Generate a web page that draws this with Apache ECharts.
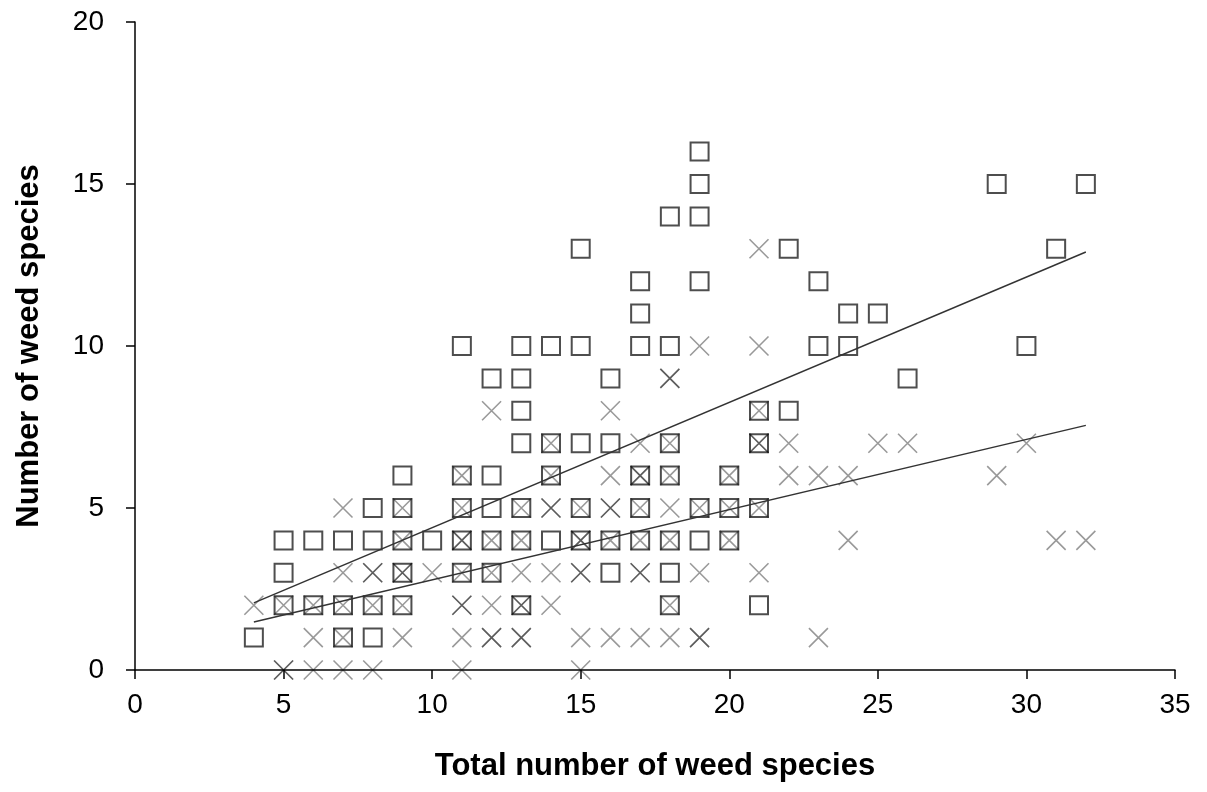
<!DOCTYPE html>
<html>
<head>
<meta charset="utf-8">
<script src="https://cdn.jsdelivr.net/npm/echarts@6/dist/echarts.min.js"></script>
<style>html,body{margin:0;padding:0;background:#fff}#c{width:1207px;height:792px}</style>
</head>
<body>
<div id="c"></div>
<script>
// Square markers: [total species, species]
const squarePoints = [
  [4,1],
  [5,4],[5,3],[5,2],
  [6,4],[6,2],
  [7,4],[7,2],[7,1],
  [8,5],[8,4],[8,2],[8,1],
  [9,6],[9,5],[9,4],[9,3],[9,2],
  [10,4],
  [11,10],[11,6],[11,5],[11,4],[11,3],
  [12,9],[12,6],[12,5],[12,4],[12,3],
  [13,10],[13,9],[13,8],[13,7],[13,5],[13,4],[13,2],
  [14,10],[14,7],[14,6],[14,4],
  [15,13],[15,10],[15,7],[15,5],[15,4],
  [16,9],[16,7],[16,4],[16,3],
  [17,12],[17,11],[17,10],[17,6],[17,5],[17,4],
  [18,14],[18,10],[18,7],[18,6],[18,4],[18,3],[18,2],
  [19,16],[19,15],[19,14],[19,12],[19,5],[19,4],
  [20,6],[20,5],[20,4],
  [21,8],[21,7],[21,5],[21,2],
  [22,13],[22,8],
  [23,12],[23,10],
  [24,11],[24,10],
  [25,11],
  [26,9],
  [29,15],
  [30,10],
  [31,13],
  [32,15]
];
// Cross markers: [total species, species] (repeated points overlap darker)
const crossPoints = [
  [4,2],
  [5,2],[5,0],[5,0],
  [6,2],[6,1],[6,0],
  [7,5],[7,3],[7,2],[7,1],[7,0],
  [8,3],[8,3],[8,2],[8,0],
  [9,5],[9,4],[9,3],[9,3],[9,2],[9,1],
  [10,3],
  [11,6],[11,5],[11,4],[11,4],[11,3],[11,2],[11,2],[11,1],[11,0],
  [12,8],[12,4],[12,3],[12,2],[12,1],[12,1],
  [13,5],[13,4],[13,3],[13,2],[13,2],[13,1],[13,1],
  [14,7],[14,6],[14,5],[14,5],[14,3],[14,2],
  [15,5],[15,4],[15,4],[15,3],[15,3],[15,1],[15,0],
  [16,8],[16,6],[16,5],[16,5],[16,4],[16,1],
  [17,7],[17,6],[17,6],[17,5],[17,4],[17,3],[17,3],[17,1],
  [18,9],[18,9],[18,7],[18,6],[18,5],[18,4],[18,2],[18,1],
  [19,10],[19,5],[19,3],[19,1],[19,1],
  [20,6],[20,5],[20,4],
  [21,13],[21,10],[21,8],[21,7],[21,7],[21,5],[21,3],
  [22,7],[22,6],
  [23,6],[23,1],
  [24,6],[24,4],
  [25,7],
  [26,7],
  [29,6],
  [30,7],
  [31,4],
  [32,4]
];
// Fitted lines (end points)
const squareFit = [[4,2.07],[32,12.9]];
const crossFit = [[4,1.48],[32,7.55]];
const xTicks = [0,5,10,15,20,25,30,35];
const yTicks = [0,5,10,15,20];

const chart = echarts.init(document.getElementById('c'), null, {renderer:'canvas'});
const FONT = '"Liberation Sans", Arial, sans-serif';
chart.setOption({
  animation: false,
  backgroundColor: '#fff',
  grid: {left: 135, right: 32, top: 22, bottom: 122},
  xAxis: {
    type: 'value', min: xTicks[0], max: xTicks[xTicks.length-1], interval: 5,
    name: 'Total number of weed species', nameLocation: 'middle', nameGap: 81,
    nameTextStyle: {fontFamily: FONT, fontSize: 31, fontWeight: 'bold', color: '#000'},
    axisLine: {onZero: false, lineStyle: {color: '#000', width: 1.5}},
    axisTick: {show: true, inside: false, length: 9, lineStyle: {color: '#000', width: 1.5}},
    axisLabel: {fontFamily: FONT, fontSize: 28, color: '#000', margin: 21},
    splitLine: {show: false}
  },
  yAxis: {
    type: 'value', min: yTicks[0], max: yTicks[yTicks.length-1], interval: 5,
    name: 'Number of weed species', nameLocation: 'middle', nameGap: 90,
    nameTextStyle: {fontFamily: FONT, fontSize: 31, fontWeight: 'bold', color: '#000'},
    axisLine: {show: true, onZero: false, lineStyle: {color: '#000', width: 1.5}},
    axisTick: {show: true, inside: false, length: 9, lineStyle: {color: '#000', width: 1.5}},
    axisLabel: {fontFamily: FONT, fontSize: 28, color: '#000', margin: 31},
    splitLine: {show: false}
  },
  series: [
    {
      type: 'scatter', data: squarePoints, symbol: 'rect', symbolSize: 18,
      itemStyle: {color: 'rgba(0,0,0,0)', borderColor: '#222', borderWidth: 2},
      z: 3
    },
    {
      type: 'scatter', data: crossPoints, symbol: 'path://M0,0L10,10M10,0L0,10', symbolSize: 19,
      itemStyle: {color: 'none', borderColor: 'rgba(0,0,0,0.5)', borderWidth: 1.6},
      z: 4
    },
    {
      type: 'line', data: squareFit, symbol: 'none', silent: true,
      lineStyle: {color: '#333', width: 1.5}, z: 5
    },
    {
      type: 'line', data: crossFit, symbol: 'none', silent: true,
      lineStyle: {color: '#333', width: 1.5}, z: 5
    }
  ]
});
</script>
</body>
</html>
